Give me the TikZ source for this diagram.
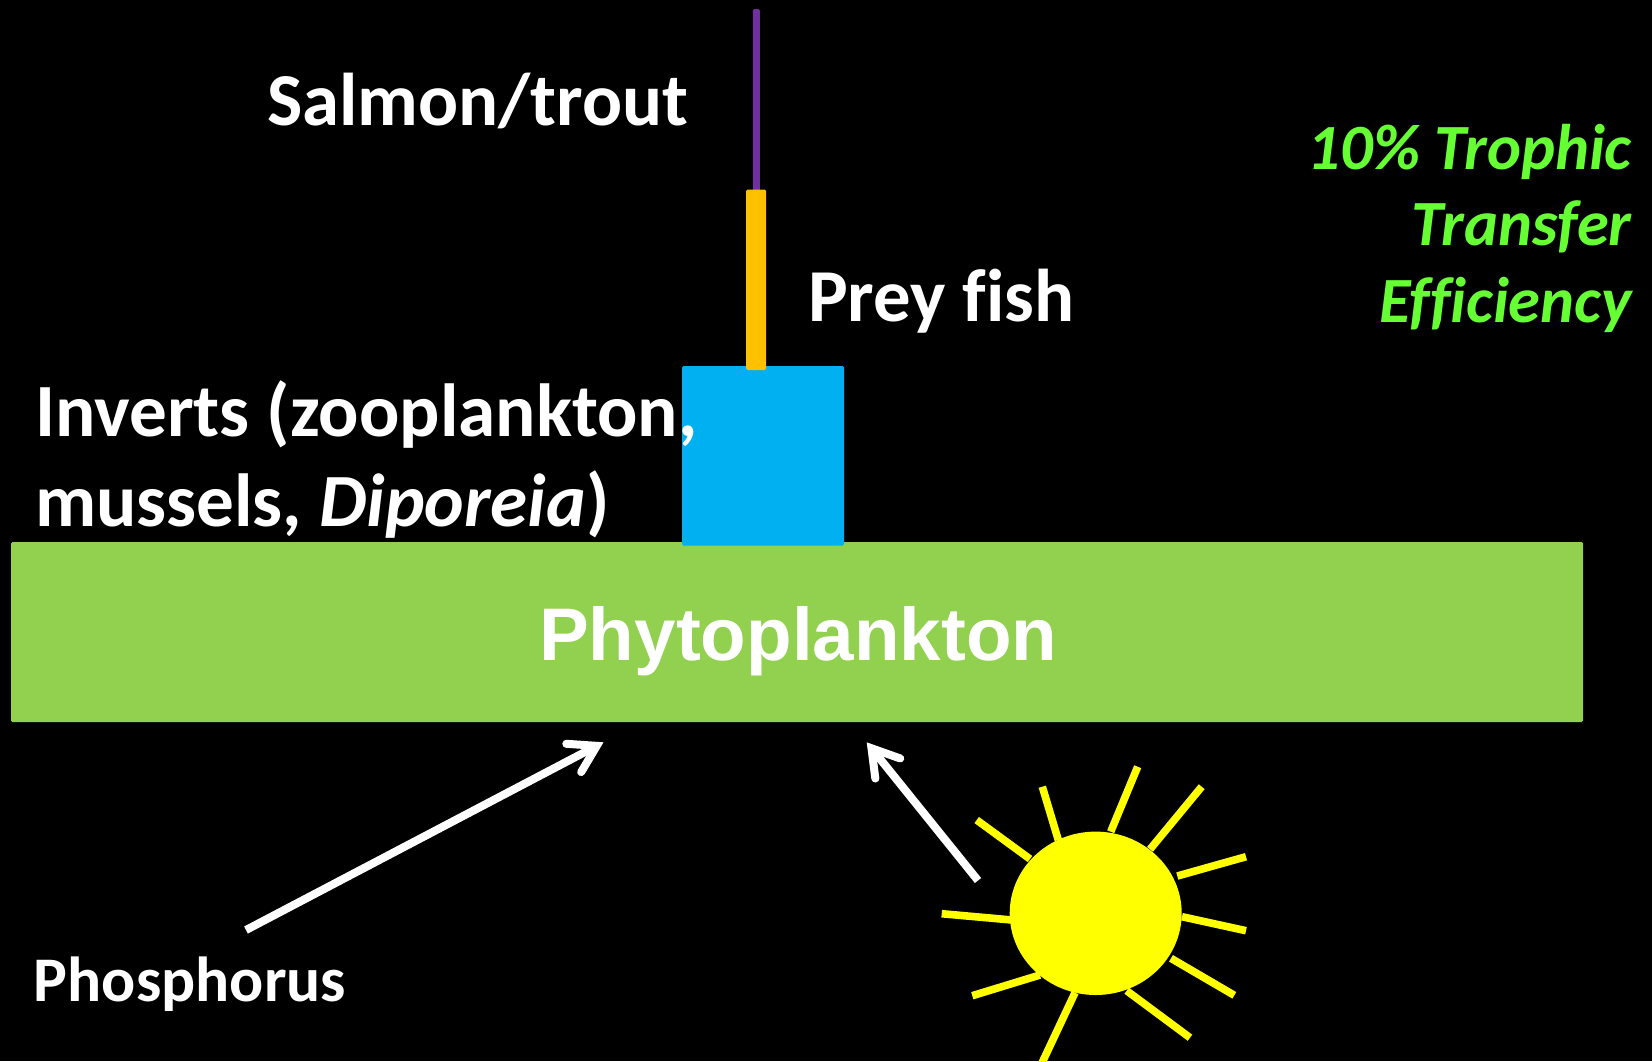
\documentclass[tikz,border=0pt]{standalone}
\usepackage{fontspec}
\setmainfont{Carlito}[Ligatures=NoCommon]
\newfontfamily\arialfont{Liberation Sans}
\usetikzlibrary{arrows.meta}
\definecolor{grn}{HTML}{92D050}
\definecolor{blu}{HTML}{00B0F0}
\definecolor{org}{HTML}{FFC000}
\definecolor{pur}{HTML}{7030A0}
\definecolor{lim}{HTML}{66FF33}
\definecolor{sun}{HTML}{FFFF00}
\tikzset{
 bar/.style={rounded corners=1.5pt,draw=none},
 lab/.style={text=white,font=\bfseries\fontsize{#1}{#1}\selectfont,anchor=base west,inner sep=0pt,outer sep=0pt},
 eff/.style={text=lim,font=\bfseries\itshape\fontsize{64.5}{64.5}\selectfont,anchor=base east,inner sep=0pt,outer sep=0pt},
 ray/.style={draw=sun,line width=7.6pt},
 wire/.style={draw=white,line width=8pt,-{Straight Barb[length=26pt,width=32pt,line width=8pt,line cap=round,line join=miter]}},
}
\begin{document}
\begin{tikzpicture}[x=1pt,y=-1pt]
\useasboundingbox (0,0) rectangle (1652,1061);
\fill[black] (0,0) rectangle (1652,1061);
\fill[grn,bar] (11,542) rectangle (1583,722);
\fill[blu,bar] (682,366) rectangle (844,545.5);
\fill[pur,bar] (752.8,9) rectangle (759.8,192);
\fill[org,bar] (746,189.5) rectangle (766,370);
\foreach \a/\b/\c/\d in {976.7/820/1030/859,1042.3/786.7/1058.3/840,1137.7/766.7/1110.7/831.7,1201.7/786.7/1150/849.3,1246/856.7/1177.3/876,1246/930.7/1182/916.7,1234.3/995.3/1171/958.3,1190/1037.7/1126.7/990.7,1041/1065/1075/992.7,972.3/995.7/1040/975,941.7/913.7/1012/920}
  \draw[ray] (\a,\b) -- (\c,\d);
\fill[sun] (1095.7,913.3) ellipse [x radius=86,y radius=81.7];
\node[lab=74.7] (salmon) at (267,125) {Salmon/trout};
\node[lab=74.7] (prey) at (808,321) {Prey fish};
\node[lab=75.2] (inv1) at (35,436) {Inverts (zooplankton,};
\node[lab=75.2] (inv2) at (35,526) {mussels, \textit{Diporeia})};
\node[lab=63.6] (phos) at (34,1001) {Phosphorus};
\node[text=white,font=\arialfont\bfseries\fontsize{74.6}{74.6}\selectfont,anchor=base west,inner sep=0pt] (phyto) at (539,660) {Phytoplankton};
\node[eff] (e1) at (1631.5,169) {10\% Trophic};
\node[eff] (e2) at (1631.5,245) {Transfer};
\node[eff] (e3) at (1631.5,322) {Efficiency};
\coordinate (a1s) at (246,930);
\coordinate (a1e) at (603.5,742.3);
\coordinate (a2s) at (978,880.5);
\coordinate (a2e) at (866.7,742.3);
\draw[wire] (a1s) -- (a1e);
\draw[wire] (a2s) -- (a2e);
\end{tikzpicture}
\end{document}
